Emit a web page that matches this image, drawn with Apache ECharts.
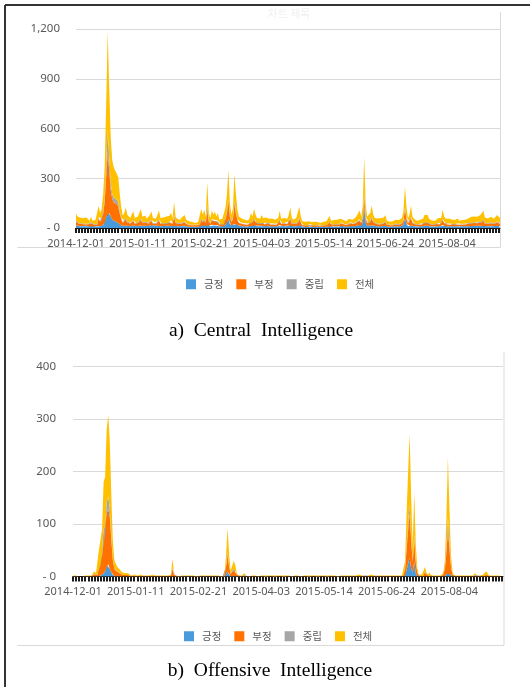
<!DOCTYPE html>
<html><head><meta charset="utf-8">
<script src="https://cdn.jsdelivr.net/npm/echarts@6/dist/echarts.min.js"></script>
<style>html,body{margin:0;padding:0;background:#fff}#c{width:530px;height:687px}</style>
</head><body><div id="c"></div>
<script>
// ---- data ----
const startDate = [2014, 12, 1];
const dayCount = 282;
const tickLabels = ['2014-12-01','2015-01-11','2015-02-21','2015-04-03','2015-05-14','2015-06-24','2015-08-04'];
const seriesNames = ['긍정','부정','중립','전체'];
const yTicksA = [0, 300, 600, 900, 1200];
const yTicksB = [0, 100, 200, 300, 400];

// a) Central Intelligence (daily counts)
const posA = [
16,13,11,12,11,12,10,13,10,9, 13,9,10,10,9,12,10,12,18,30, 68,99,90,70,50,45,40,35,30,22,
15,12,14,18,14,12,11,14,16,11, 10,13,15,20,13,11,14,10,12,15, 18,11,13,10,15,19,11,10,12,11,
13,11,14,17,11,25,13,10,11,10, 12,11,14,10,9,8,8,7,8,6, 8,7,9,20,15,18,13,25,15,11,
19,15,18,13,16,10,9,11,10,18, 30,55,22,14,18,25,22,17,13,13, 11,11,10,11,9,11,16,13,20,15,
11,13,11,14,11,10,12,13,11,9, 11,10,10,9,11,18,11,10,11,13, 11,15,20,12,10,11,11,13,22,13,
8,7,8,6,8,10,7,6,8,7, 7,8,6,7,8,6,8,9,13,9, 8,10,9,10,8,11,13,10,9,8,
10,11,13,10,11,11,14,16,19,13, 30,130,30,13,11,16,22,15,11,11, 11,10,11,11,12,14,9,8,8,9,
8,10,10,9,10,11,11,20,58,25, 11,15,15,13,11,10,9,10,10,9, 11,14,13,14,11,10,9,10,9,11,
11,10,11,18,13,11,10,11,10,10, 11,10,10,11,9,10,10,10,10,11, 11,11,13,12,13,14,13,14,14,13,
18,12,11,11,11,13,11,11,12,14, 13,11];
const negA = [
21,17,14,14,13,13,11,14,12,10, 16,10,10,11,11,45,27,35,68,125, 242,363,260,160,125,110,105,110,100,65,
37,20,24,34,20,17,14,21,26,14, 14,17,19,28,17,14,17,14,15,19, 24,14,17,14,19,26,14,11,15,13,
17,14,17,22,14,41,17,14,14,11, 15,13,19,11,10,9,8,8,9,7, 8,8,10,29,19,29,17,80,23,14,
26,19,24,17,22,11,10,13,10,33, 58,110,43,20,33,120,64,30,17,16, 13,14,11,14,10,14,22,17,29,19,
14,17,13,19,14,11,15,16,13,10, 14,10,11,10,14,26,13,11,14,17, 13,19,33,15,11,13,14,17,32,17,
9,8,8,7,9,12,8,7,8,7, 8,9,7,8,8,7,9,10,18,10, 9,10,10,11,10,13,16,11,10,9,
10,13,16,11,13,14,17,22,26,17, 25,55,30,17,14,22,36,19,14,13, 14,11,14,13,15,19,10,9,8,10,
9,10,11,10,10,13,14,23,55,31, 14,19,45,17,13,11,10,10,11,10, 13,19,17,19,13,11,10,10,10,13,
14,11,14,29,17,13,11,14,10,12, 13,10,11,14,10,11,10,12,11,13, 14,14,16,15,17,17,16,17,19,17,
26,15,14,14,13,16,14,13,15,19, 17,14];
const neuA = [
7,5,4,5,4,5,4,5,4,3, 5,3,4,4,3,10,8,10,17,28, 63,131,75,45,30,28,28,25,23,16,
10,6,7,10,6,5,5,7,8,5, 4,5,6,9,5,5,6,4,5,6, 8,5,5,4,6,8,5,4,5,4,
5,5,6,7,5,12,5,4,5,4, 5,4,6,4,3,3,3,3,3,2, 3,3,3,9,6,8,5,33,7,5,
8,6,8,5,7,4,3,4,4,9, 12,10,10,6,9,18,14,8,5,5, 4,5,4,4,3,5,7,5,9,6,
5,5,4,6,5,4,5,5,4,3, 4,4,4,3,5,8,4,4,5,5, 4,6,9,5,4,4,5,5,10,5,
3,3,3,2,3,4,3,2,3,2, 3,3,2,3,3,2,3,3,5,3, 3,4,3,4,3,4,5,4,3,3,
4,4,5,4,4,5,6,7,8,5, 10,28,10,5,5,7,10,6,5,4, 4,4,5,4,5,6,3,3,3,3,
3,4,4,3,4,4,5,7,11,9, 5,6,8,5,4,4,3,4,4,3, 4,6,5,6,4,4,3,4,3,4,
5,4,5,8,5,4,4,4,4,4, 4,4,4,4,3,4,4,4,4,4, 4,5,5,5,5,5,5,6,6,5,
8,5,5,4,4,5,5,4,5,6, 5,5];

// b) Offensive Intelligence (daily counts)
const posB = [
0,0,0,0,0,0,0,0,0,0, 0,0,0,0,0,0,0,2,2,4, 6,10,22,24,15,8,3,1,1,0,
0,0,0,0,0,0,0,0,0,0, 0,0,0,0,0,0,0,0,0,0, 0,0,0,0,0,0,0,0,0,0,
0,0,0,0,0,0,0,0,0,0, 0,0,0,0,0,0,0,0,0,0, 0,0,0,0,0,0,0,0,0,0,
0,0,0,0,0,0,0,0,0,0, 4,10,3,0,1,1,1,0,0,0, 0,0,0,0,0,0,0,0,0,0,
0,0,0,0,0,0,0,0,0,0, 0,0,0,0,0,0,0,0,0,0, 0,0,0,0,0,0,0,0,0,0,
0,0,0,0,0,0,0,0,0,0, 0,0,0,0,0,0,0,0,0,0, 0,0,0,0,0,0,0,0,0,0,
0,0,0,0,0,0,0,0,0,0, 0,0,0,0,0,0,0,0,0,0, 0,0,0,0,0,0,0,0,0,0,
0,0,0,0,0,0,0,2,12,25, 35,15,8,28,6,1,0,0,0,0, 0,0,0,0,0,0,0,0,0,0,
0,0,0,1,5,8,5,2,0,0, 0,0,0,0,0,0,0,0,0,0, 0,0,0,0,0,0,0,0,0,0,
0,0,0,0,0,0,0,0,0,0, 0,0];
const negB = [
1,0,1,1,0,1,0,1,1,0, 1,2,1,2,4,2,3,21,20,36, 74,70,98,105,100,63,29,14,10,8,
7,5,4,4,3,3,3,2,1,1, 2,1,1,1,2,1,1,2,1,1, 1,1,2,1,1,1,1,1,1,1,
1,1,1,1,2,15,3,1,1,0, 1,1,0,1,1,1,0,1,1,1, 1,0,1,1,1,1,0,1,1,1,
1,1,0,1,1,1,1,0,1,1, 14,30,16,5,8,12,9,4,1,1, 1,1,3,1,1,0,1,1,1,1,
1,0,1,1,1,1,0,1,1,1, 1,1,0,1,1,1,1,1,0,1, 1,1,1,0,1,1,1,1,1,0,
1,1,1,1,0,1,1,1,1,1, 0,1,1,1,1,1,0,1,1,1, 1,1,1,0,1,1,1,1,1,1,
1,1,1,1,1,1,1,2,1,1, 2,1,2,1,1,2,1,1,2,1, 1,1,1,1,1,1,1,1,1,1,
1,1,1,1,1,1,2,11,40,63, 85,52,19,42,20,6,2,1,2,1, 8,4,1,4,1,1,1,1,1,1,
1,1,3,12,40,80,48,15,4,1, 1,1,1,1,1,1,1,1,1,1, 1,1,1,3,1,2,1,1,2,1,
4,3,1,1,1,1,1,1,1,1, 1,1];
const neuB = [
0,0,0,0,0,0,0,0,0,0, 0,0,0,1,1,1,1,3,3,5, 10,15,20,25,15,8,3,1,1,1,
1,1,0,1,0,0,0,0,0,0, 0,0,0,0,0,0,0,0,0,0, 0,0,0,0,0,0,0,0,0,0,
0,0,0,0,0,2,1,0,0,0, 0,0,0,0,0,0,0,0,0,0, 0,0,0,0,0,0,0,0,0,0,
0,0,0,0,0,0,0,0,0,0, 2,6,3,1,1,2,1,0,0,0, 0,0,0,0,0,0,0,0,0,0,
0,0,0,0,0,0,0,0,0,0, 0,0,0,0,0,0,0,0,0,0, 0,0,0,0,0,0,0,0,0,0,
0,0,0,0,0,0,0,0,0,0, 0,0,0,0,0,0,0,0,0,0, 0,0,0,0,0,0,0,0,0,0,
0,0,0,0,0,0,0,0,0,0, 0,0,0,0,0,0,0,0,0,0, 0,0,0,0,0,0,0,0,0,0,
0,0,0,0,0,0,0,2,8,12, 16,8,3,10,4,1,0,0,0,0, 1,0,0,0,0,0,0,0,0,0,
0,0,0,2,10,26,12,3,1,0, 0,0,0,0,0,0,0,0,0,0, 0,0,0,0,0,0,0,0,0,0,
1,0,0,0,0,0,0,0,0,0, 0,0];

// ---- build ----
function pad(n){ return (n < 10 ? '0' : '') + n; }
const dates = [];
for (let i = 0; i < dayCount; i++) {
  const d = new Date(Date.UTC(startDate[0], startDate[1] - 1, startDate[2] + i));
  dates.push(d.getUTCFullYear() + '-' + pad(d.getUTCMonth() + 1) + '-' + pad(d.getUTCDate()));
}
// 전체 = 긍정 + 부정 + 중립
const totA = posA.map((v, i) => v + negA[i] + neuA[i]);
const totB = posB.map((v, i) => v + negB[i] + neuB[i]);

const colors = ['#4A9BDB', '#FF7100', '#A6A6A6', '#FFC000'];
const uiFont = '"Noto Sans", "Noto Sans CJK KR", sans-serif';
const krFont = '"Noto Sans CJK KR", "Noto Sans", sans-serif';

function mkSeries(name, data, idx, color) {
  return {
    name: name, type: 'line', xAxisIndex: idx, yAxisIndex: idx, stack: 's' + idx,
    data: data, symbol: 'none', showSymbol: false, silent: true,
    lineStyle: { width: 0, opacity: 0 },
    areaStyle: { color: color, opacity: 1 },
    itemStyle: { color: color },
    emphasis: { disabled: true }
  };
}
function mkX(idx) {
  return {
    type: 'category', gridIndex: idx, data: dates, boundaryGap: false,
    axisLine: { show: true, lineStyle: { color: '#1a1a1a', width: 1 } },
    axisTick: { show: true, interval: 1, length: 5, lineStyle: { color: '#1a1a1a', width: 2 } },
    axisLabel: { interval: (i, v) => tickLabels.indexOf(v) >= 0, color: '#595959', fontSize: 11, margin: 10, fontFamily: uiFont },
    splitLine: { show: false }
  };
}
function mkY(idx, ticks, margin) {
  return {
    type: 'value', gridIndex: idx, min: ticks[0], max: ticks[ticks.length - 1], interval: ticks[1] - ticks[0],
    axisLabel: { formatter: v => v === 0 ? '- 0' : v.toLocaleString('en-US'), color: '#595959', fontSize: 11.5, margin: margin, fontFamily: uiFont },
    splitLine: { lineStyle: { color: '#d9d9d9', width: 1 } },
    axisLine: { show: false }, axisTick: { show: false }
  };
}
function mkLegend(left, top) {
  return {
    data: seriesNames, left: left, top: top, icon: 'rect', itemWidth: 10, itemHeight: 10, itemGap: 13,
    padding: 0, selectedMode: false,
    textStyle: { color: '#595959', fontSize: 10.5, fontFamily: krFont, padding: [0, 0, 0, 3] }
  };
}

const chart = echarts.init(document.getElementById('c'), null, { renderer: 'canvas' });
chart.setOption({
  animation: false,
  backgroundColor: '#fff',
  grid: [
    { left: 76, top: 29, width: 424, height: 199, containLabel: false },
    { left: 73, top: 366.5, width: 430, height: 210, containLabel: false }
  ],
  xAxis: [mkX(0), mkX(1)],
  yAxis: [mkY(0, yTicksA, 16), mkY(1, yTicksB, 17)],
  legend: [mkLegend(186, 279), mkLegend(184, 631)],
  series: [
    mkSeries(seriesNames[0], posA, 0, colors[0]),
    mkSeries(seriesNames[1], negA, 0, colors[1]),
    mkSeries(seriesNames[2], neuA, 0, colors[2]),
    mkSeries(seriesNames[3], totA, 0, colors[3]),
    mkSeries(seriesNames[0], posB, 1, colors[0]),
    mkSeries(seriesNames[1], negB, 1, colors[1]),
    mkSeries(seriesNames[2], neuB, 1, colors[2]),
    mkSeries(seriesNames[3], totB, 1, colors[3])
  ],
  graphic: [
    { type: 'line', silent: true, shape: { x1: 5, y1: 5, x2: 530, y2: 5 }, style: { stroke: '#333', lineWidth: 2 } },
    { type: 'line', silent: true, shape: { x1: 5, y1: 5, x2: 5, y2: 687 }, style: { stroke: '#333', lineWidth: 2 } },
    { type: 'line', silent: true, shape: { x1: 500.5, y1: 12, x2: 500.5, y2: 247 }, style: { stroke: '#d9d9d9', lineWidth: 1 } },
    { type: 'line', silent: true, shape: { x1: 17.5, y1: 247.5, x2: 500.5, y2: 247.5 }, style: { stroke: '#d9d9d9', lineWidth: 1 } },
    { type: 'line', silent: true, shape: { x1: 504, y1: 352, x2: 504, y2: 645 }, style: { stroke: '#d9d9d9', lineWidth: 1 } },
    { type: 'line', silent: true, shape: { x1: 17.5, y1: 645.5, x2: 504, y2: 645.5 }, style: { stroke: '#d9d9d9', lineWidth: 1 } },
    { type: 'text', silent: true, style: { text: '차트 제목', x: 289, y: 14, align: 'center', verticalAlign: 'middle', fontSize: 11, fontFamily: krFont, fill: '#f0f0f0' } },
    { type: 'text', silent: true, style: { text: 'a)  Central  Intelligence', x: 261, y: 331, align: 'center', verticalAlign: 'middle', fontSize: 19.5, fontFamily: '"Liberation Serif", serif', fill: '#000' } },
    { type: 'text', silent: true, style: { text: 'b)  Offensive  Intelligence', x: 270, y: 671, align: 'center', verticalAlign: 'middle', fontSize: 19.5, fontFamily: '"Liberation Serif", serif', fill: '#000' } }
  ]
});
</script>
</body></html>
